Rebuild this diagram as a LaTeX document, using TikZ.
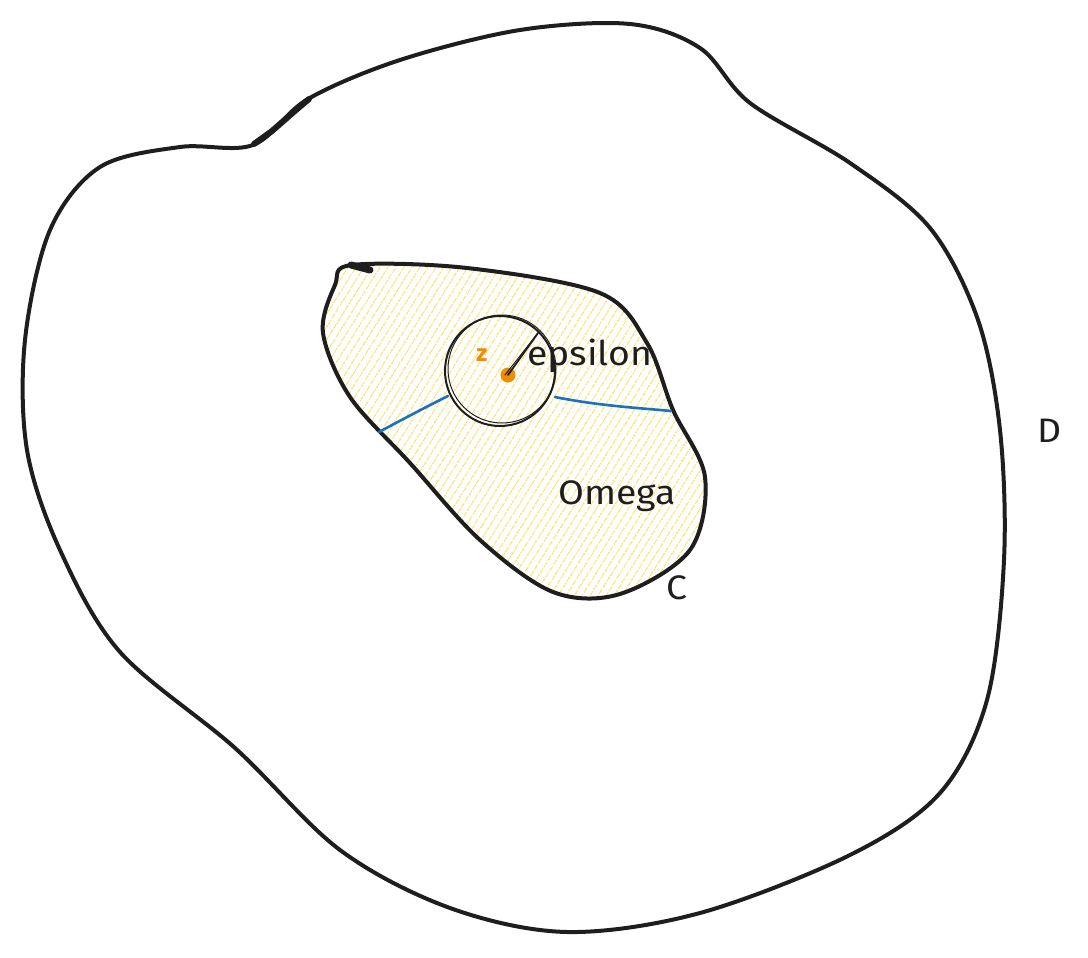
\documentclass[tikz,border=0pt]{standalone}
\usepackage{fontspec}
\setmainfont{Fira Sans}
\usetikzlibrary{patterns.meta}
\definecolor{ink}{HTML}{1E1E1E}
\definecolor{skblue}{HTML}{1971C2}
\definecolor{skorange}{HTML}{F08C00}
\definecolor{skyellow}{HTML}{FFD43B}
\tikzset{
  stroke/.style={draw=ink, line width=4pt, line join=round, line cap=round},
  bluestroke/.style={draw=skblue, line width=2.6pt, line cap=round},
  lab/.style={text=ink, font=\fontsize{34}{34}\selectfont, inner sep=0pt, xscale=1.1},
}
\begin{document}
\begin{tikzpicture}[x=1pt,y=-1pt]
\useasboundingbox (0,0) rectangle (1088,958);
% outer region D
\draw[stroke] plot[smooth cycle, tension=0.55] coordinates {
 (253,145) (308,99) (400,60) (520,30) (630,24) (700,48) (750,103) (850,163)
 (930,228) (978,320) (1000,430) (1004,560) (987,700) (940,793) (850,855)
 (700,913) (567,932) (450,908) (340,850) (235,748) (120,652) (60,550)
 (27,450) (25,340) (50,230) (100,167) (180,147)};
\draw[draw=ink, line width=6pt, line cap=round] (254,144) -- (272,131) -- (296,110) -- (309,99);
% inner region C
\draw[stroke, pattern={Lines[angle=58,distance=6.5pt,line width=1.3pt]}, pattern color=skyellow!80]
 plot[smooth cycle, tension=0.55] coordinates {
 (352,265) (467,268) (600,293) (647,343) (673,410) (705,477) (690,550)
 (620,594) (553,592) (480,540) (410,463) (350,397) (323,333) (335,285)};
\draw[draw=ink, line width=7pt, line cap=round] (351,265) -- (370,270);
% blue cuts
\draw[bluestroke] (379,432) .. controls (405,418) and (428,406) .. (448,396);
\draw[bluestroke] (555,397) .. controls (600,406) and (640,408) .. (671,411);
% small disc
\node[draw=ink, line width=2pt, circle, minimum size=110pt, inner sep=0pt] (disc) at (500,371) {};
\draw[draw=ink, line width=1pt] (502,369) circle (54pt);
% centre point z
\node[circle, fill=skorange, minimum size=15pt, inner sep=0pt] (zpt) at (508,375) {};
\node[text=skorange, font=\bfseries\fontsize{24}{24}\selectfont, inner sep=0pt] (zlab) at (482,355) {z};
\coordinate (rim) at (538,333);
\draw[draw=ink, line width=1.8pt, line cap=round] (zpt.center) -- (rim);
\draw[draw=ink, line width=1pt, line cap=round] (zpt.center) ++(-3,0) -- (rim);
% labels
\node[lab, anchor=west] (eps) at (527,356) {epsilon};
\node[lab] (omega) at (617,496) {Omega};
\node[lab] (C) at (677,588) {C};
\node[lab] (D) at (1050,431) {D};
\end{tikzpicture}
\end{document}
